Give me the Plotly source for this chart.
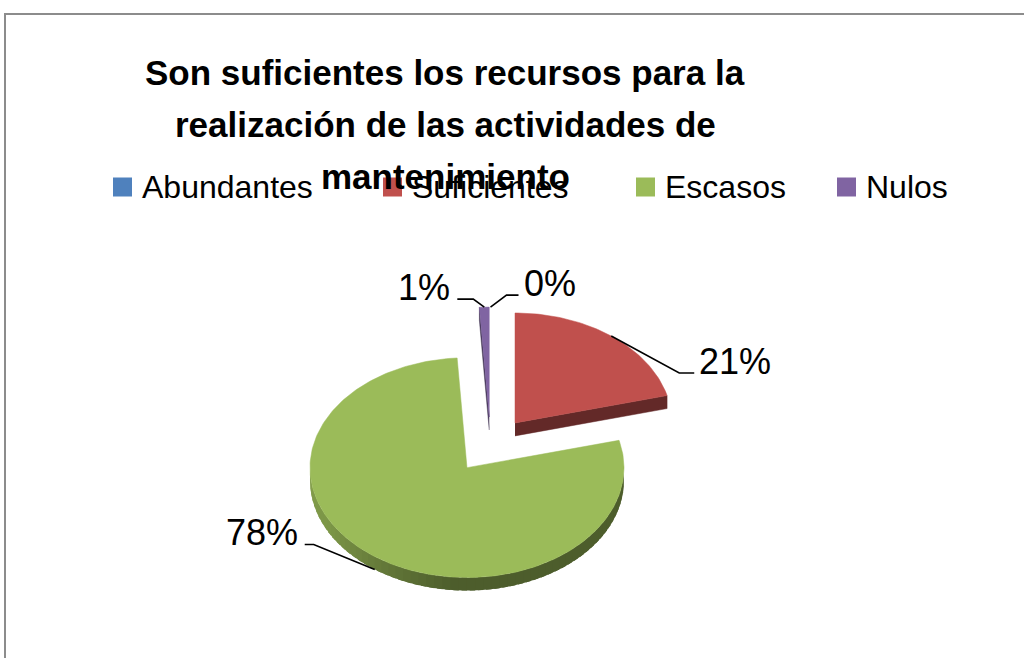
import numpy as np
import plotly.graph_objects as go

# ---- data -----------------------------------------------------------------
categories = ["Abundantes", "Suficientes", "Escasos", "Nulos"]
values = [0, 21, 78, 1]
colors = ["#4F81BD", "#C0504D", "#9BBB59", "#8064A2"]
title_lines = [
    "Son suficientes los recursos para la",
    "realización de las actividades de",
    "mantenimiento",
]

# ---- page / pie geometry (pixels) -------------------------------------------
W, H = 1024, 658
R = 157.0              # horizontal radius of the pie
CX, CY = 490.5, 445.0  # pie centre on the page
TILT = 0.70            # vertical squash of the tilted disc
DEPTH = 13.0 / R       # thickness of the disc
EXPLODE = 40.0 / R     # distance each slice is pulled out
STEP = 1.0             # degrees per rim sample

# leader-line elbows for each data label, px offsets from the slice anchor
# (elbow dx, elbow dy, tail dx), screen y grows downward
leaders = {
    "Abundantes": (16, -12, 12),
    "Suficientes": (68, 37, 15),
    "Escasos": (-61, -25, -9),
    "Nulos": (-11, -8, -16),
}


def hex_rgb(h):
    h = h.lstrip("#")
    return tuple(int(h[i:i + 2], 16) for i in (0, 2, 4))


def shade(h, f):
    r, g, b = hex_rgb(h)
    return "rgb({},{},{})".format(int(r * f), int(g * f), int(b * f))


def rim(c, th, drop=0.0):
    a = np.radians(th)
    return c[0] + np.sin(a), c[1] + np.cos(a) * TILT - drop


def arc(c, t1, t2, drop=0.0):
    n = max(2, int(np.ceil(abs(t2 - t1) / STEP)) + 1)
    th = np.linspace(t1, t2, n)
    a = np.radians(th)
    return c[0] + np.sin(a), c[1] + np.cos(a) * TILT - drop


def side_factor(th):
    # lighter on the left of the front wall, darker towards the right
    if th <= 185:
        return 0.50
    if th <= 240:
        return 0.50 + 0.30 * (th - 185) / 55
    return 0.80 + 0.05 * (th - 240) / 30


def poly(xs, ys, col, lw=0.0):
    return go.Scatter(
        x=list(xs), y=list(ys), mode="lines", fill="toself",
        fillcolor=col, line=dict(color=col, width=lw),
        hoverinfo="skip", showlegend=False,
    )


total = float(sum(values))
slices = []
start = 0.0
for cat, val, col in zip(categories, values, colors):
    sweep = 360.0 * val / total
    t1, t2 = start, start + sweep
    mid = (t1 + t2) / 2
    m = np.radians(mid)
    c = (EXPLODE * np.sin(m), EXPLODE * np.cos(m) * TILT)
    slices.append(dict(cat=cat, val=val, col=col, t1=t1, t2=t2, mid=mid, c=c))
    start = t2

fig = go.Figure()

# draw from the back of the scene to the front
for s in sorted(slices, key=lambda s: -s["c"][1]):
    if s["val"] <= 0:
        continue
    c, t1, t2, col = s["c"], s["t1"], s["t2"], s["col"]

    # radial walls that face the viewer
    for th, visible in ((t1, np.sin(np.radians(t1)) < -1e-9),
                        (t2, np.sin(np.radians(t2)) > 1e-9)):
        if visible:
            px_, py_ = rim(c, th)
            xs = [c[0], px_, px_, c[0]]
            ys = [c[1], py_, py_ - DEPTH, c[1] - DEPTH]
            fig.add_trace(poly(xs, ys, shade(col, 0.52), 0.5))

    # front part of the outer wall, in overlapping bands for a smooth gradient
    a1, a2 = max(t1, 90.0), min(t2, 270.0)
    if a2 > a1:
        edges = np.arange(a1, a2, 3.0).tolist() + [a2]
        for e1, e2 in zip(edges[:-1], edges[1:]):
            e2x = min(e2 + 2.0, a2)
            tx, ty = arc(c, e1, e2x)
            bx, by = arc(c, e2x, e1, DEPTH)
            fig.add_trace(poly(np.r_[tx, bx], np.r_[ty, by],
                               shade(col, side_factor((e1 + e2) / 2))))

    # top face
    tx, ty = arc(c, t1, t2)
    fig.add_trace(poly(np.r_[c[0], tx, c[0]], np.r_[c[1], ty, c[1]], col, 0.5))

# data labels with elbowed leader lines
annotations = []
for s in slices:
    c, mid = s["c"], s["mid"]
    drop = DEPTH if 90 < mid < 270 else 0.0
    ax_, ay_ = rim(c, mid, drop)
    ex, ey, tx = leaders[s["cat"]]
    bx, by = ax_ + ex / R, ay_ - ey / R
    qx, qy = bx + tx / R, by
    fig.add_trace(go.Scatter(
        x=[ax_, bx, qx], y=[ay_, by, qy], mode="lines",
        line=dict(color="black", width=1.6),
        hoverinfo="skip", showlegend=False,
    ))
    right = tx > 0
    annotations.append(dict(
        x=qx, y=qy, xref="x", yref="y",
        text="{:.0f}%".format(100 * s["val"] / total),
        showarrow=False, xanchor="left" if right else "right",
        yanchor="middle", xshift=3 if right else -5, yshift=12,
        font=dict(family="Liberation Sans, Arial", size=36, color="black"),
    ))

# title, one annotation per line
for i, line in enumerate(title_lines):
    annotations.append(dict(
        x=445 / W, y=1 - (73 + 51.5 * i) / H, xref="paper", yref="paper",
        text="<b>{}</b>".format(line), showarrow=False,
        xanchor="center", yanchor="middle",
        font=dict(family="Liberation Sans, Arial", size=35, color="black"),
    ))

# legend: colour swatches followed by names
legend_x = [142, 412, 665, 866]
legend_y = 187
shapes = []
for cat, col, lx in zip(categories, colors, legend_x):
    shapes.append(dict(
        type="rect", xref="paper", yref="paper",
        x0=(lx - 29) / W, x1=(lx - 10) / W,
        y0=1 - (legend_y + 9.5) / H, y1=1 - (legend_y - 9.5) / H,
        fillcolor=col, line=dict(width=0), layer="above",
    ))
    annotations.append(dict(
        x=lx / W, y=1 - legend_y / H, xref="paper", yref="paper",
        text=cat, showarrow=False, xanchor="left", yanchor="middle",
        xshift=-2,
        font=dict(family="Liberation Sans, Arial", size=32, color="black"),
    ))

# chart-area border
shapes.append(dict(
    type="rect", xref="paper", yref="paper",
    x0=5 / W, x1=1.05, y0=-0.05, y1=1 - 14 / H,
    line=dict(color="#8C8C8C", width=2), fillcolor="rgba(0,0,0,0)",
))

fig.update_layout(
    width=W, height=H,
    margin=dict(l=0, r=0, t=0, b=0),
    paper_bgcolor="white", plot_bgcolor="white",
    xaxis=dict(range=[-CX / R, (W - CX) / R], visible=False, fixedrange=True),
    yaxis=dict(range=[-(H - CY) / R, CY / R], visible=False, fixedrange=True),
    annotations=annotations,
    shapes=shapes,
    showlegend=False,
)

fig.write_html("out.html")
